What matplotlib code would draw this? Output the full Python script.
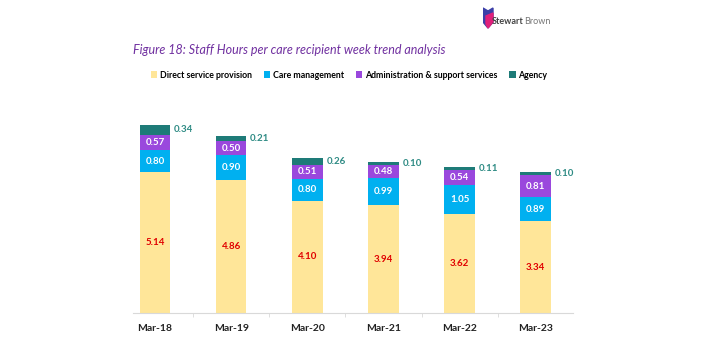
import numpy as np
import matplotlib.pyplot as plt
from matplotlib.patches import Polygon

#------Datos----------
years = ['Mar-18', 'Mar-19', 'Mar-20', 'Mar-21', 'Mar-22', 'Mar-23']
direct = [5.14, 4.86, 4.10, 3.94, 3.62, 3.34]
care = [0.80, 0.90, 0.80, 0.99, 1.05, 0.89]
admin = [0.57, 0.50, 0.51, 0.48, 0.54, 0.81]
agency = [0.34, 0.21, 0.26, 0.10, 0.11, 0.10]

names = ['Direct service provision', 'Care management',
         'Administration & support services', 'Agency']
colores = ['#FFE699', '#00B0F0', '#9A48DD', '#1E7B78']

plt.rcParams['font.family'] = ['Lato', 'DejaVu Sans']

fig = plt.figure(figsize=(7.02, 3.42), dpi=100)
ax = fig.add_axes([133/702, 29/342, 440/702, 205.5/342])

x = np.arange(len(years))
w = 0.40
bottom = np.zeros(len(years))
series = [direct, care, admin, agency]
for vals, nm, c in zip(series, names, colores):
    ax.bar(x, vals, w, bottom=bottom, color=c, label=nm, linewidth=0)
    for i, v in enumerate(vals):
        if nm == 'Agency':
            ax.text(x[i] + w/2 + 0.05, bottom[i] + v/2, f'{v:.2f}', ha='left', va='center',
                    fontsize=7, fontweight='bold', color='#2E8B84')
        elif nm == 'Direct service provision':
            ax.text(x[i], bottom[i] + v/2, f'{v:.2f}', ha='center', va='center',
                    fontsize=7, fontweight='bold', color='#E00000')
        else:
            ax.text(x[i], bottom[i] + v/2, f'{v:.2f}', ha='center', va='center',
                    fontsize=7, fontweight='bold', color='white')
    bottom = bottom + np.array(vals)

ax.set_xlim(-0.29, 5.49)
ax.set_ylim(0, 7.5)
ax.set_xticks(x)
ax.set_xticklabels(years, fontsize=7.5, fontweight='bold', color='#222222')
ax.set_xticks(x[:-1] + 0.5, minor=True)
ax.tick_params(axis='x', which='major', length=0, pad=8)
ax.tick_params(axis='x', which='minor', length=3, color='#D9D9D9')
ax.set_yticks([])
for s in ['top', 'right', 'left']:
    ax.spines[s].set_visible(False)
ax.spines['bottom'].set_color('#D9D9D9')

fig.text(133/702, 1 - 50/342, 'Figure 18: Staff Hours per care recipient week trend analysis',
         fontsize=9, style='italic', color='#7030A0', va='center', ha='left')

fig.legend(loc='center', bbox_to_anchor=(349/702, 1 - 75/342), ncol=4, frameon=False,
           prop={'size': 6.3, 'weight': 'bold'}, handlelength=0.7, handleheight=0.7,
           handletextpad=0.3, columnspacing=1.4)

# logo aproximado
logo = fig.add_axes([483/702, 1 - 30/342, 80/702, 24/342])
logo.set_xlim(0, 80)
logo.set_ylim(0, 24)
logo.axis('off')
logo.add_patch(Polygon([[0, 22], [5, 19], [10, 22], [10, 8], [5, 2], [0, 8]], color='#3B3FA8'))
logo.add_patch(Polygon([[3, 14], [10, 17], [10, 8], [5, 2], [3, 6]], color='#E0207A'))
t1 = logo.text(9, 8, 'Stewart', fontsize=6.5, fontweight='bold', color='#444444', va='center')
r = fig.canvas.get_renderer()
bb = t1.get_window_extent(renderer=r).transformed(logo.transData.inverted())
logo.text(bb.x1 + 0.3, 8, 'Brown', fontsize=6.5, color='#777777', va='center')

plt.savefig('out.png', dpi=100)
